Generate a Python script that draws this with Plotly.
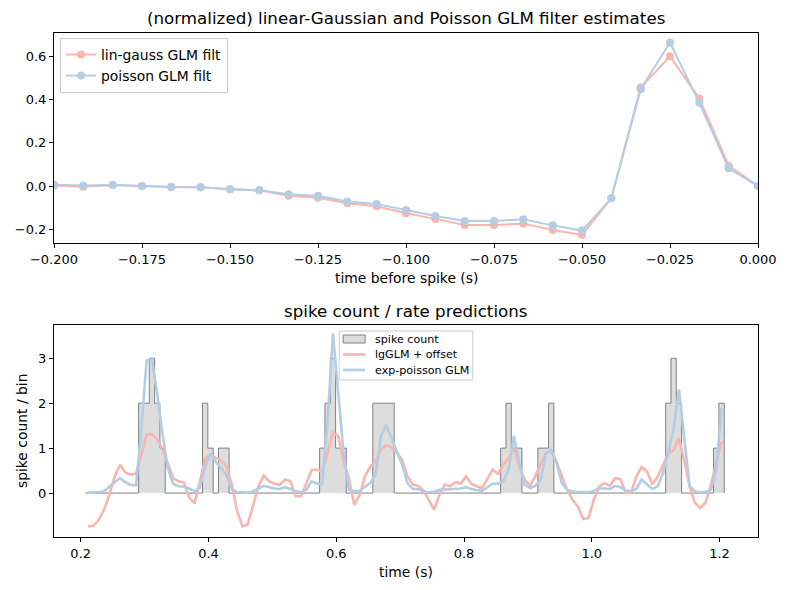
import numpy as np
import plotly.graph_objects as go

# ---------------- data ----------------
dt = 1.0 / 120.0
# top panel: filter time lags (s)
filt_lags = -0.2 + np.arange(25) * dt
lin_gauss_filt = [0.003, -0.003, 0.005, 0.0, -0.005, -0.006, -0.015, -0.02, -0.045, -0.054,
                  -0.08, -0.094, -0.126, -0.152, -0.18, -0.18, -0.174, -0.203, -0.226, -0.057,
                  0.456, 0.600, 0.405, 0.094, 0.0]
poisson_filt = [0.006, 0.003, 0.005, 0.0, -0.005, -0.006, -0.015, -0.02, -0.038, -0.045,
                -0.072, -0.083, -0.111, -0.139, -0.162, -0.162, -0.154, -0.182, -0.206, -0.057,
                0.448, 0.664, 0.385, 0.082, 0.0]

# bottom panel: time bins (s)
t_bins = 0.2115 + np.arange(120) * dt
spike_count = [0]*10 + [2, 2, 3, 2, 1] + [0]*7 + [2, 1, 0, 1, 1] + [0]*17 + \
              [1, 2, 3, 1, 1] + [0]*5 + [2, 2, 2, 2] + [0]*20 + [1, 2, 1, 1] + [0]*3 + \
              [1, 1, 2] + [0]*21 + [2, 3, 2] + [0]*6 + [1, 2]
lg_glm = [-0.74, -0.73, -0.6, -0.37, -0.04, 0.37, 0.63, 0.46, 0.41, 0.43,
          0.85, 1.3, 1.31, 1.19, 0.97, 0.65, 0.33, 0.26, 0.23, -0.1,
          -0.23, 0.25, 0.78, 0.85, 0.78, 0.72, 0.59, 0.19, -0.41, -0.74,
          -0.7, -0.26, 0.15, 0.39, 0.26, 0.21, 0.18, 0.3, 0.26, -0.07,
          -0.07, 0.21, 0.52, 0.52, 0.48, 0.9, 1.35, 1.27, 0.7, 0.33,
          -0.26, -0.05, 0.37, 0.59, 0.7, 0.96, 1.07, 1.02, 0.9, 0.74,
          0.37, 0.19, 0.16, 0.06, -0.16, -0.37, -0.04, 0.19, 0.15, 0.24,
          0.21, 0.37, 0.21, 0.15, 0.11, 0.3, 0.52, 0.43, 0.63, 0.78,
          1.0, 0.59, 0.3, 0.16, 0.37, 0.65, 0.89, 0.93, 0.7, 0.37,
          0.07, -0.15, -0.3, -0.58, -0.56, -0.15, 0.15, 0.22, 0.16, 0.33,
          0.31, 0.0, 0.0, 0.37, 0.58, 0.48, 0.19, 0.36, 0.64, 0.89,
          0.96, 1.22, 0.72, 0.15, -0.22, -0.33, -0.21, 0.19, 0.67, 1.15]
exp_poisson = [0.01, 0.01, 0.02, 0.04, 0.15, 0.24, 0.33, 0.24, 0.18, 0.17,
               1.4, 2.95, 2.97, 2.2, 1.3, 0.55, 0.2, 0.15, 0.14, 0.1,
               0.04, 0.12, 0.6, 0.88, 0.69, 0.56, 0.4, 0.09, 0.02, 0.01,
               0.01, 0.04, 0.1, 0.16, 0.13, 0.1, 0.09, 0.13, 0.09, 0.04,
               0.02, 0.07, 0.26, 0.21, 0.2, 1.6, 3.55, 2.3, 0.89, 0.07,
               0.04, 0.05, 0.13, 0.22, 0.41, 1.26, 1.52, 1.22, 0.95, 0.63,
               0.22, 0.09, 0.09, 0.04, 0.02, 0.03, 0.07, 0.08, 0.09, 0.09,
               0.1, 0.13, 0.09, 0.07, 0.05, 0.13, 0.21, 0.21, 0.26, 0.52,
               1.27, 0.67, 0.19, 0.11, 0.16, 0.3, 0.89, 0.95, 0.67, 0.22,
               0.07, 0.04, 0.02, 0.02, 0.02, 0.05, 0.11, 0.1, 0.09, 0.16,
               0.13, 0.06, 0.04, 0.09, 0.3, 0.19, 0.09, 0.15, 0.44, 0.9,
               1.45, 2.3, 1.2, 0.15, 0.04, 0.02, 0.02, 0.07, 0.52, 1.89]

legend2_labels = ["spike count", "lgGLM + offset", "exp-poisson GLM"]

RED = "#fbb4ae"
BLUE = "#b3cde3"
GRAYFILL = "#dddddd"
GRAYEDGE = "#808080"
FONT = "DejaVu Sans"

# plot-area geometry (pixels) used to place hand-drawn legend for lower panel
ML, MR, MT, MB, W, H = 54, 29, 33, 53, 789, 590
PW, PH = W - ML - MR, H - MT - MB


def px2x(px):
    return (px - ML) / PW


def px2y(py):
    return 1 - (py - MT) / PH


# step outline for spike counts (bars centred on bins)
step_x = [t_bins[0] - dt / 2]
step_y = [0]
for t, c in zip(t_bins, spike_count):
    step_x += [t - dt / 2, t + dt / 2]
    step_y += [c, c]
step_x.append(t_bins[-1] + dt / 2)
step_y.append(0)

fig = go.Figure()

# top panel
fig.add_trace(go.Scatter(x=filt_lags, y=lin_gauss_filt, mode="lines+markers",
                         name="lin-gauss GLM filt", line=dict(color=RED, width=2),
                         marker=dict(color=RED, size=8), xaxis="x", yaxis="y"))
fig.add_trace(go.Scatter(x=filt_lags, y=poisson_filt, mode="lines+markers",
                         name="poisson GLM filt", line=dict(color=BLUE, width=2),
                         marker=dict(color=BLUE, size=8), xaxis="x", yaxis="y"))

# bottom panel
fig.add_trace(go.Scatter(x=step_x, y=step_y, mode="lines", fill="tozeroy",
                         fillcolor=GRAYFILL, line=dict(color=GRAYEDGE, width=1),
                         name=legend2_labels[0], xaxis="x2", yaxis="y2", showlegend=False))
fig.add_trace(go.Scatter(x=t_bins, y=lg_glm, mode="lines", name=legend2_labels[1],
                         line=dict(color=RED, width=2.6), xaxis="x2", yaxis="y2", showlegend=False))
fig.add_trace(go.Scatter(x=t_bins, y=exp_poisson, mode="lines", name=legend2_labels[2],
                         line=dict(color=BLUE, width=2.6), xaxis="x2", yaxis="y2", showlegend=False))

axis_common = dict(showline=True, linecolor="black", linewidth=1, mirror=True,
                   ticks="outside", ticklen=4, tickcolor="black", showgrid=False,
                   zeroline=False, tickfont=dict(family=FONT, size=13, color="black"))

# hand-drawn compact legend for lower panel
shapes = [
    dict(type="rect", xref="paper", yref="paper",
         x0=px2x(340), x1=px2x(474), y0=px2y(380), y1=px2y(331),
         line=dict(color="#cccccc", width=1), fillcolor="rgba(255,255,255,0.8)", layer="above"),
    dict(type="rect", xref="paper", yref="paper",
         x0=px2x(344), x1=px2x(366), y0=px2y(343), y1=px2y(335),
         line=dict(color=GRAYEDGE, width=1), fillcolor=GRAYFILL, layer="above"),
    dict(type="line", xref="paper", yref="paper",
         x0=px2x(344), x1=px2x(366), y0=px2y(354.5), y1=px2y(354.5),
         line=dict(color=RED, width=2.6), layer="above"),
    dict(type="line", xref="paper", yref="paper",
         x0=px2x(344), x1=px2x(366), y0=px2y(370), y1=px2y(370),
         line=dict(color=BLUE, width=2.6), layer="above"),
]
leg_text_y = [339, 354.5, 370]

annotations = [
    dict(text="(normalized) linear-Gaussian and Poisson GLM filter estimates",
         x=0.5, y=px2y(18), xref="paper", yref="paper", showarrow=False,
         xanchor="center", yanchor="middle", font=dict(family=FONT, size=16.7)),
    dict(text="time before spike (s)", x=0.5, y=px2y(278), xref="paper", yref="paper",
         showarrow=False, xanchor="center", yanchor="middle", font=dict(family=FONT, size=13.9)),
    dict(text="spike count / rate predictions", x=0.5, y=px2y(311), xref="paper", yref="paper",
         showarrow=False, xanchor="center", yanchor="middle", font=dict(family=FONT, size=16.7)),
    dict(text="time (s)", x=0.5, y=px2y(572), xref="paper", yref="paper",
         showarrow=False, xanchor="center", yanchor="middle", font=dict(family=FONT, size=13.9)),
    dict(text="spike count / bin", x=px2x(22), y=px2y(431), xref="paper", yref="paper",
         showarrow=False, xanchor="center", yanchor="middle", textangle=-90,
         font=dict(family=FONT, size=13.9)),
]
for lbl, yy in zip(legend2_labels, leg_text_y):
    annotations.append(dict(text=lbl, x=px2x(374), y=px2y(yy), xref="paper", yref="paper",
                            showarrow=False, xanchor="left", yanchor="middle",
                            font=dict(family=FONT, size=11.1, color="black")))

fig.update_layout(
    width=W, height=H,
    margin=dict(l=ML, r=MR, t=MT, b=MB),
    plot_bgcolor="white", paper_bgcolor="white",
    font=dict(family=FONT, color="black"),
    xaxis=dict(domain=[0, 1], anchor="y", range=[-0.2, 0.0],
               tickvals=[-0.2, -0.175, -0.15, -0.125, -0.1, -0.075, -0.05, -0.025, 0.0],
               tickformat=".3f", **axis_common),
    yaxis=dict(domain=[px2y(243.3), 1], anchor="x", range=[-0.265, 0.708],
               tickvals=[-0.2, 0.0, 0.2, 0.4, 0.6], tickformat=".1f", **axis_common),
    xaxis2=dict(domain=[0, 1], anchor="y2", range=[0.1582, 1.2602],
                tickvals=[0.2, 0.4, 0.6, 0.8, 1.0, 1.2], tickformat=".1f", **axis_common),
    yaxis2=dict(domain=[0, px2y(325)], anchor="x2", range=[-0.978, 3.74],
                tickvals=[0, 1, 2, 3], **axis_common),
    legend=dict(x=px2x(60), y=px2y(38), xanchor="left", yanchor="top",
                bordercolor="#cccccc", borderwidth=1, bgcolor="rgba(255,255,255,0.8)",
                font=dict(family=FONT, size=13.9, color="black"), tracegroupgap=0),
    showlegend=True,
    shapes=shapes,
    annotations=annotations,
)

fig.write_html("out.html")
